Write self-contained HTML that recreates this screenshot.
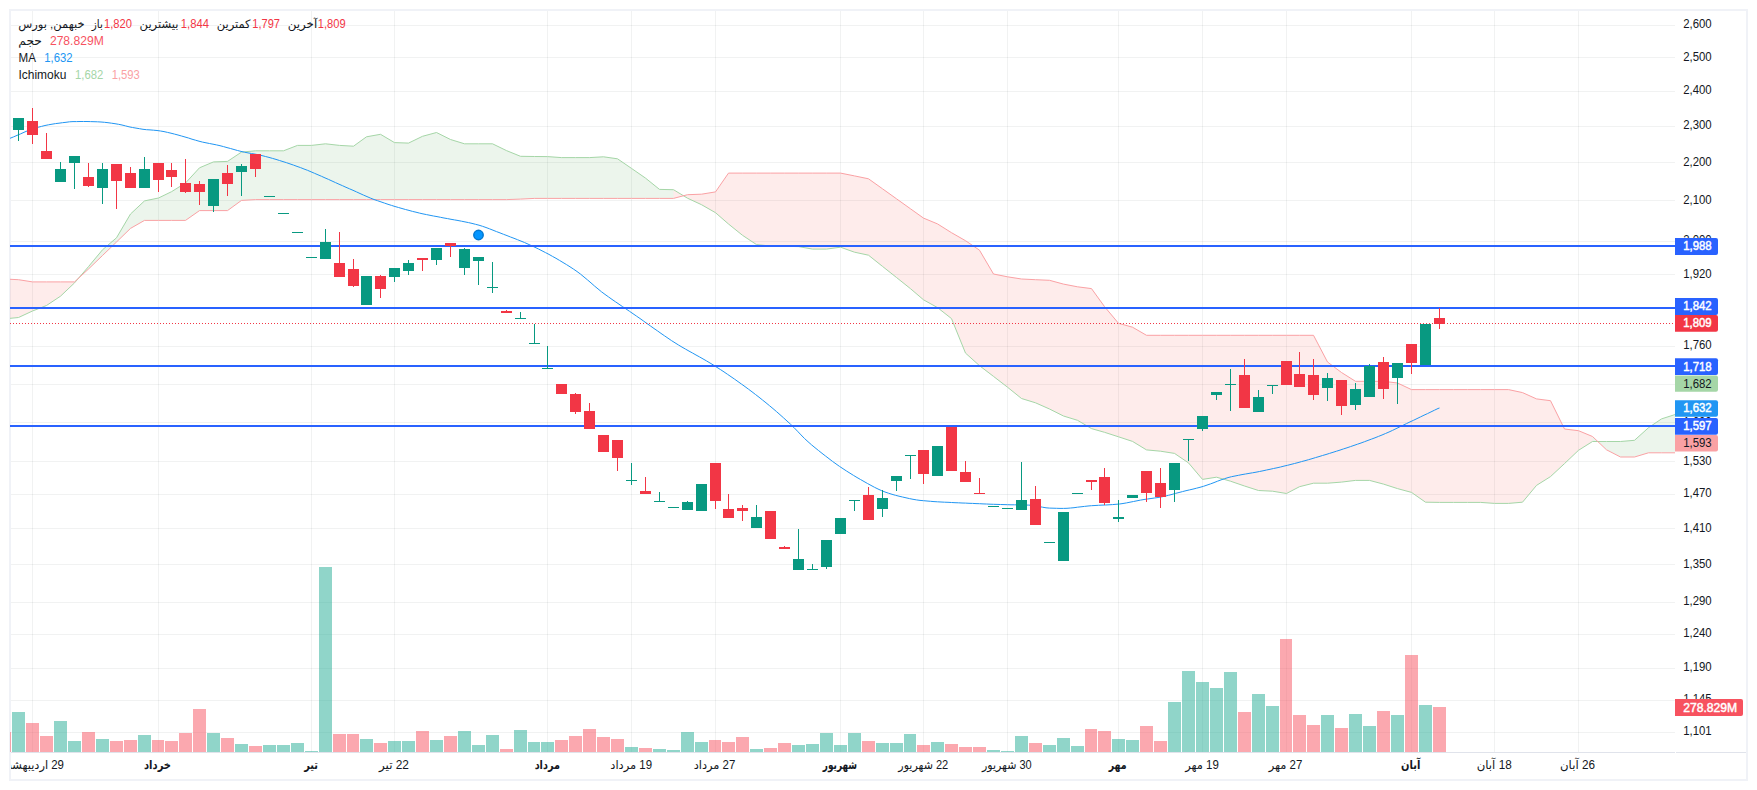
<!DOCTYPE html>
<html lang="fa"><head><meta charset="utf-8"><title>chart</title>
<style>html,body{margin:0;padding:0;background:#fff;overflow:hidden}svg{display:block}</style></head>
<body>
<svg width="1757" height="790" viewBox="0 0 1757 790" font-family="'Liberation Sans','DejaVu Sans',sans-serif" font-size="11.5">
<defs><clipPath id="pane"><rect x="10" y="11" width="1665" height="741"/></clipPath><clipPath id="taxis"><rect x="11" y="753" width="1664" height="26"/></clipPath></defs>
<rect width="1757" height="790" fill="#fff"/>
<rect x="10" y="10" width="1737" height="770" fill="none" stroke="#f0f2f7" stroke-width="2"/>
<g fill="rgba(42,56,57,0.065)" shape-rendering="crispEdges">
<rect x="11" y="25" width="1664" height="1"/>
<rect x="11" y="57" width="1664" height="1"/>
<rect x="11" y="91" width="1664" height="1"/>
<rect x="11" y="126" width="1664" height="1"/>
<rect x="11" y="162" width="1664" height="1"/>
<rect x="11" y="200" width="1664" height="1"/>
<rect x="11" y="241" width="1664" height="1"/>
<rect x="11" y="274" width="1664" height="1"/>
<rect x="11" y="346" width="1664" height="1"/>
<rect x="11" y="384" width="1664" height="1"/>
<rect x="11" y="422" width="1664" height="1"/>
<rect x="11" y="461" width="1664" height="1"/>
<rect x="11" y="494" width="1664" height="1"/>
<rect x="11" y="528" width="1664" height="1"/>
<rect x="11" y="564" width="1664" height="1"/>
<rect x="11" y="602" width="1664" height="1"/>
<rect x="11" y="634" width="1664" height="1"/>
<rect x="11" y="668" width="1664" height="1"/>
<rect x="11" y="700" width="1664" height="1"/>
<rect x="11" y="732" width="1664" height="1"/>
<rect x="32" y="11" width="1" height="741"/>
<rect x="158" y="11" width="1" height="741"/>
<rect x="311" y="11" width="1" height="741"/>
<rect x="394" y="11" width="1" height="741"/>
<rect x="547" y="11" width="1" height="741"/>
<rect x="631" y="11" width="1" height="741"/>
<rect x="715" y="11" width="1" height="741"/>
<rect x="840" y="11" width="1" height="741"/>
<rect x="923" y="11" width="1" height="741"/>
<rect x="1007" y="11" width="1" height="741"/>
<rect x="1118" y="11" width="1" height="741"/>
<rect x="1202" y="11" width="1" height="741"/>
<rect x="1286" y="11" width="1" height="741"/>
<rect x="1411" y="11" width="1" height="741"/>
<rect x="1494" y="11" width="1" height="741"/>
<rect x="1578" y="11" width="1" height="741"/>
</g>
<g clip-path="url(#pane)">
<g shape-rendering="crispEdges">
<rect x="10" y="732" width="1" height="20" fill="rgba(247,82,95,0.5)"/>
<rect x="12" y="712" width="13" height="40" fill="rgba(34,171,148,0.5)"/>
<rect x="26" y="723" width="13" height="29" fill="rgba(247,82,95,0.5)"/>
<rect x="40" y="736" width="13" height="16" fill="rgba(247,82,95,0.5)"/>
<rect x="54" y="721" width="13" height="31" fill="rgba(34,171,148,0.5)"/>
<rect x="68" y="741" width="13" height="11" fill="rgba(34,171,148,0.5)"/>
<rect x="82" y="732" width="13" height="20" fill="rgba(247,82,95,0.5)"/>
<rect x="96" y="739" width="13" height="13" fill="rgba(34,171,148,0.5)"/>
<rect x="110" y="741" width="13" height="11" fill="rgba(247,82,95,0.5)"/>
<rect x="124" y="740" width="13" height="12" fill="rgba(247,82,95,0.5)"/>
<rect x="138" y="735" width="13" height="17" fill="rgba(34,171,148,0.5)"/>
<rect x="152" y="740" width="12" height="12" fill="rgba(247,82,95,0.5)"/>
<rect x="165" y="741" width="13" height="11" fill="rgba(247,82,95,0.5)"/>
<rect x="179" y="733" width="13" height="19" fill="rgba(247,82,95,0.5)"/>
<rect x="193" y="709" width="13" height="43" fill="rgba(247,82,95,0.5)"/>
<rect x="207" y="733" width="13" height="19" fill="rgba(34,171,148,0.5)"/>
<rect x="221" y="738" width="13" height="14" fill="rgba(247,82,95,0.5)"/>
<rect x="235" y="744" width="13" height="8" fill="rgba(34,171,148,0.5)"/>
<rect x="249" y="746" width="13" height="6" fill="rgba(247,82,95,0.5)"/>
<rect x="263" y="745" width="13" height="7" fill="rgba(34,171,148,0.5)"/>
<rect x="277" y="745" width="13" height="7" fill="rgba(34,171,148,0.5)"/>
<rect x="291" y="743" width="13" height="9" fill="rgba(34,171,148,0.5)"/>
<rect x="305" y="751" width="13" height="1" fill="rgba(34,171,148,0.5)"/>
<rect x="319" y="567" width="13" height="185" fill="rgba(34,171,148,0.5)"/>
<rect x="333" y="734" width="13" height="18" fill="rgba(247,82,95,0.5)"/>
<rect x="347" y="734" width="12" height="18" fill="rgba(247,82,95,0.5)"/>
<rect x="360" y="739" width="13" height="13" fill="rgba(34,171,148,0.5)"/>
<rect x="374" y="743" width="13" height="9" fill="rgba(247,82,95,0.5)"/>
<rect x="388" y="741" width="13" height="11" fill="rgba(34,171,148,0.5)"/>
<rect x="402" y="741" width="13" height="11" fill="rgba(34,171,148,0.5)"/>
<rect x="416" y="731" width="13" height="21" fill="rgba(247,82,95,0.5)"/>
<rect x="430" y="740" width="13" height="12" fill="rgba(34,171,148,0.5)"/>
<rect x="444" y="736" width="13" height="16" fill="rgba(247,82,95,0.5)"/>
<rect x="458" y="731" width="13" height="21" fill="rgba(34,171,148,0.5)"/>
<rect x="472" y="745" width="13" height="7" fill="rgba(34,171,148,0.5)"/>
<rect x="486" y="735" width="13" height="17" fill="rgba(34,171,148,0.5)"/>
<rect x="500" y="749" width="13" height="3" fill="rgba(247,82,95,0.5)"/>
<rect x="514" y="730" width="13" height="22" fill="rgba(34,171,148,0.5)"/>
<rect x="528" y="742" width="12" height="10" fill="rgba(34,171,148,0.5)"/>
<rect x="541" y="742" width="13" height="10" fill="rgba(34,171,148,0.5)"/>
<rect x="555" y="740" width="13" height="12" fill="rgba(247,82,95,0.5)"/>
<rect x="569" y="736" width="13" height="16" fill="rgba(247,82,95,0.5)"/>
<rect x="583" y="729" width="13" height="23" fill="rgba(247,82,95,0.5)"/>
<rect x="597" y="737" width="13" height="15" fill="rgba(247,82,95,0.5)"/>
<rect x="611" y="739" width="13" height="13" fill="rgba(247,82,95,0.5)"/>
<rect x="625" y="747" width="13" height="5" fill="rgba(34,171,148,0.5)"/>
<rect x="639" y="748" width="13" height="4" fill="rgba(247,82,95,0.5)"/>
<rect x="653" y="749" width="13" height="3" fill="rgba(34,171,148,0.5)"/>
<rect x="667" y="750" width="13" height="2" fill="rgba(34,171,148,0.5)"/>
<rect x="681" y="732" width="13" height="20" fill="rgba(34,171,148,0.5)"/>
<rect x="695" y="742" width="13" height="10" fill="rgba(34,171,148,0.5)"/>
<rect x="709" y="740" width="12" height="12" fill="rgba(247,82,95,0.5)"/>
<rect x="722" y="742" width="13" height="10" fill="rgba(247,82,95,0.5)"/>
<rect x="736" y="737" width="13" height="15" fill="rgba(247,82,95,0.5)"/>
<rect x="750" y="749" width="13" height="3" fill="rgba(34,171,148,0.5)"/>
<rect x="764" y="748" width="13" height="4" fill="rgba(247,82,95,0.5)"/>
<rect x="778" y="743" width="13" height="9" fill="rgba(247,82,95,0.5)"/>
<rect x="792" y="745" width="13" height="7" fill="rgba(34,171,148,0.5)"/>
<rect x="806" y="744" width="13" height="8" fill="rgba(34,171,148,0.5)"/>
<rect x="820" y="733" width="13" height="19" fill="rgba(34,171,148,0.5)"/>
<rect x="834" y="745" width="13" height="7" fill="rgba(34,171,148,0.5)"/>
<rect x="848" y="733" width="13" height="19" fill="rgba(34,171,148,0.5)"/>
<rect x="862" y="741" width="13" height="11" fill="rgba(247,82,95,0.5)"/>
<rect x="876" y="743" width="13" height="9" fill="rgba(34,171,148,0.5)"/>
<rect x="890" y="743" width="13" height="9" fill="rgba(34,171,148,0.5)"/>
<rect x="904" y="734" width="12" height="18" fill="rgba(34,171,148,0.5)"/>
<rect x="917" y="745" width="13" height="7" fill="rgba(247,82,95,0.5)"/>
<rect x="931" y="742" width="13" height="10" fill="rgba(34,171,148,0.5)"/>
<rect x="945" y="744" width="13" height="8" fill="rgba(247,82,95,0.5)"/>
<rect x="959" y="747" width="13" height="5" fill="rgba(247,82,95,0.5)"/>
<rect x="973" y="747" width="13" height="5" fill="rgba(247,82,95,0.5)"/>
<rect x="987" y="750" width="13" height="2" fill="rgba(34,171,148,0.5)"/>
<rect x="1001" y="751" width="13" height="1" fill="rgba(34,171,148,0.5)"/>
<rect x="1015" y="736" width="13" height="16" fill="rgba(34,171,148,0.5)"/>
<rect x="1029" y="743" width="13" height="9" fill="rgba(247,82,95,0.5)"/>
<rect x="1043" y="745" width="13" height="7" fill="rgba(34,171,148,0.5)"/>
<rect x="1057" y="738" width="13" height="14" fill="rgba(34,171,148,0.5)"/>
<rect x="1071" y="746" width="13" height="6" fill="rgba(34,171,148,0.5)"/>
<rect x="1085" y="729" width="12" height="23" fill="rgba(247,82,95,0.5)"/>
<rect x="1098" y="731" width="13" height="21" fill="rgba(247,82,95,0.5)"/>
<rect x="1112" y="739" width="13" height="13" fill="rgba(34,171,148,0.5)"/>
<rect x="1126" y="740" width="13" height="12" fill="rgba(34,171,148,0.5)"/>
<rect x="1140" y="726" width="13" height="26" fill="rgba(247,82,95,0.5)"/>
<rect x="1154" y="741" width="13" height="11" fill="rgba(247,82,95,0.5)"/>
<rect x="1168" y="702" width="13" height="50" fill="rgba(34,171,148,0.5)"/>
<rect x="1182" y="671" width="13" height="81" fill="rgba(34,171,148,0.5)"/>
<rect x="1196" y="682" width="13" height="70" fill="rgba(34,171,148,0.5)"/>
<rect x="1210" y="688" width="13" height="64" fill="rgba(34,171,148,0.5)"/>
<rect x="1224" y="672" width="13" height="80" fill="rgba(34,171,148,0.5)"/>
<rect x="1238" y="712" width="13" height="40" fill="rgba(247,82,95,0.5)"/>
<rect x="1252" y="694" width="13" height="58" fill="rgba(34,171,148,0.5)"/>
<rect x="1266" y="706" width="13" height="46" fill="rgba(34,171,148,0.5)"/>
<rect x="1280" y="639" width="12" height="113" fill="rgba(247,82,95,0.5)"/>
<rect x="1293" y="715" width="13" height="37" fill="rgba(247,82,95,0.5)"/>
<rect x="1307" y="725" width="13" height="27" fill="rgba(247,82,95,0.5)"/>
<rect x="1321" y="715" width="13" height="37" fill="rgba(34,171,148,0.5)"/>
<rect x="1335" y="728" width="13" height="24" fill="rgba(247,82,95,0.5)"/>
<rect x="1349" y="714" width="13" height="38" fill="rgba(34,171,148,0.5)"/>
<rect x="1363" y="726" width="13" height="26" fill="rgba(34,171,148,0.5)"/>
<rect x="1377" y="711" width="13" height="41" fill="rgba(247,82,95,0.5)"/>
<rect x="1391" y="715" width="13" height="37" fill="rgba(34,171,148,0.5)"/>
<rect x="1405" y="655" width="13" height="97" fill="rgba(247,82,95,0.5)"/>
<rect x="1419" y="705" width="13" height="47" fill="rgba(34,171,148,0.5)"/>
<rect x="1433" y="707" width="13" height="45" fill="rgba(247,82,95,0.5)"/>
</g>
<path d="M74.5,282.9 L88.5,266.6 L102.5,249.8 L116.5,237.8 L130.5,214.0 L144.5,200.9 L158.5,198.0 L171.5,191.7 L185.5,183.0 L199.5,167.8 L213.5,161.9 L227.5,161.4 L241.5,152.1 L255.5,150.8 L269.5,150.8 L283.5,150.8 L297.5,145.4 L311.5,145.4 L325.5,143.8 L339.5,145.4 L353.5,146.2 L366.5,136.8 L380.5,134.3 L394.5,142.6 L408.5,143.1 L422.5,136.3 L436.5,132.5 L450.5,139.5 L464.5,143.8 L478.5,143.8 L492.5,143.8 L506.5,150.6 L520.5,156.3 L534.5,156.5 L547.5,156.6 L561.5,157.6 L575.5,157.6 L589.5,157.6 L603.5,156.8 L617.5,158.8 L631.5,168.4 L645.5,178.1 L659.5,189.4 L673.5,189.7 L673.5,198.4 L659.5,198.4 L645.5,198.4 L631.5,198.4 L617.5,198.4 L603.5,198.4 L589.5,198.4 L575.5,198.4 L561.5,198.4 L547.5,198.4 L534.5,198.4 L520.5,199.1 L506.5,199.6 L492.5,199.6 L478.5,199.6 L464.5,199.6 L450.5,199.6 L436.5,199.6 L422.5,199.6 L408.5,199.6 L394.5,199.6 L380.5,199.6 L366.5,199.6 L353.5,199.6 L339.5,199.6 L325.5,199.6 L311.5,199.6 L297.5,199.6 L283.5,199.6 L269.5,199.6 L255.5,199.6 L241.5,200.4 L227.5,210.6 L213.5,210.6 L199.5,210.6 L185.5,220.4 L171.5,220.4 L158.5,220.4 L144.5,220.4 L130.5,228.4 L116.5,242.0 L102.5,255.5 L88.5,269.0 L74.5,281.9Z M1592.5,441.5 L1606.5,441.5 L1620.5,441.5 L1634.5,440.3 L1648.5,427.7 L1661.5,418.9 L1675.5,414.4 L1689.5,412.0 L1689.5,452.8 L1675.5,452.8 L1661.5,452.8 L1648.5,452.8 L1634.5,457.0 L1620.5,457.0 L1606.5,449.8 L1592.5,436.5Z" fill="rgb(67,160,71)" fill-opacity="0.1"/>
<path d="M4.5,318.9 L18.5,317.5 L32.5,311.0 L46.5,305.5 L60.5,296.2 L74.5,282.9 L74.5,281.9 L60.5,281.9 L46.5,281.9 L32.5,281.9 L18.5,279.7 L4.5,279.0Z M673.5,189.7 L687.5,198.2 L701.5,204.7 L715.5,212.7 L728.5,224.0 L742.5,235.3 L756.5,244.6 L770.5,246.0 L784.5,246.3 L798.5,246.6 L812.5,249.1 L826.5,249.1 L840.5,247.2 L854.5,252.2 L868.5,255.2 L882.5,266.4 L896.5,277.5 L910.5,288.7 L923.5,299.8 L937.5,307.6 L951.5,318.6 L965.5,353.1 L979.5,365.7 L993.5,376.4 L1007.5,387.2 L1021.5,398.5 L1035.5,402.8 L1049.5,409.0 L1063.5,416.0 L1077.5,420.3 L1091.5,428.6 L1104.5,432.3 L1118.5,436.8 L1132.5,441.4 L1146.5,449.9 L1160.5,451.2 L1174.5,453.4 L1188.5,462.9 L1202.5,479.4 L1216.5,477.2 L1230.5,481.2 L1244.5,486.0 L1258.5,490.5 L1272.5,491.2 L1286.5,493.5 L1299.5,486.7 L1313.5,483.2 L1327.5,483.2 L1341.5,482.1 L1355.5,480.4 L1369.5,480.4 L1383.5,484.1 L1397.5,488.6 L1411.5,492.4 L1425.5,502.2 L1439.5,502.4 L1453.5,502.4 L1467.5,502.4 L1480.5,502.4 L1494.5,503.4 L1508.5,503.4 L1522.5,502.2 L1536.5,485.4 L1550.5,476.6 L1564.5,463.6 L1578.5,450.3 L1592.5,441.5 L1592.5,436.5 L1578.5,430.7 L1564.5,429.0 L1550.5,400.7 L1536.5,398.9 L1522.5,392.6 L1508.5,389.6 L1494.5,389.6 L1480.5,389.6 L1467.5,389.6 L1453.5,389.6 L1439.5,389.6 L1425.5,389.6 L1411.5,389.6 L1397.5,383.0 L1383.5,381.3 L1369.5,381.3 L1355.5,381.3 L1341.5,372.5 L1327.5,362.0 L1313.5,335.3 L1299.5,335.3 L1286.5,335.3 L1272.5,335.3 L1258.5,335.3 L1244.5,335.3 L1230.5,335.3 L1216.5,335.3 L1202.5,335.3 L1188.5,335.3 L1174.5,335.3 L1160.5,335.3 L1146.5,335.3 L1132.5,327.2 L1118.5,323.3 L1104.5,306.6 L1091.5,288.6 L1077.5,286.8 L1063.5,284.1 L1049.5,280.3 L1035.5,279.7 L1021.5,279.0 L1007.5,276.8 L993.5,274.0 L979.5,250.2 L965.5,240.7 L951.5,232.7 L937.5,223.9 L923.5,218.1 L910.5,208.8 L896.5,198.8 L882.5,188.8 L868.5,178.8 L854.5,175.9 L840.5,173.1 L826.5,173.1 L812.5,173.1 L798.5,173.1 L784.5,173.1 L770.5,173.1 L756.5,173.1 L742.5,173.1 L728.5,173.1 L715.5,191.9 L701.5,194.2 L687.5,194.7 L673.5,198.4Z" fill="rgb(244,67,54)" fill-opacity="0.1"/>
<polyline fill="none" stroke="#a5d6a7" stroke-width="1" points="4.5,318.9 18.5,317.5 32.5,311.0 46.5,305.5 60.5,296.2 74.5,282.9 88.5,266.6 102.5,249.8 116.5,237.8 130.5,214.0 144.5,200.9 158.5,198.0 171.5,191.7 185.5,183.0 199.5,167.8 213.5,161.9 227.5,161.4 241.5,152.1 255.5,150.8 269.5,150.8 283.5,150.8 297.5,145.4 311.5,145.4 325.5,143.8 339.5,145.4 353.5,146.2 366.5,136.8 380.5,134.3 394.5,142.6 408.5,143.1 422.5,136.3 436.5,132.5 450.5,139.5 464.5,143.8 478.5,143.8 492.5,143.8 506.5,150.6 520.5,156.3 534.5,156.5 547.5,156.6 561.5,157.6 575.5,157.6 589.5,157.6 603.5,156.8 617.5,158.8 631.5,168.4 645.5,178.1 659.5,189.4 673.5,189.7 687.5,198.2 701.5,204.7 715.5,212.7 728.5,224.0 742.5,235.3 756.5,244.6 770.5,246.0 784.5,246.3 798.5,246.6 812.5,249.1 826.5,249.1 840.5,247.2 854.5,252.2 868.5,255.2 882.5,266.4 896.5,277.5 910.5,288.7 923.5,299.8 937.5,307.6 951.5,318.6 965.5,353.1 979.5,365.7 993.5,376.4 1007.5,387.2 1021.5,398.5 1035.5,402.8 1049.5,409.0 1063.5,416.0 1077.5,420.3 1091.5,428.6 1104.5,432.3 1118.5,436.8 1132.5,441.4 1146.5,449.9 1160.5,451.2 1174.5,453.4 1188.5,462.9 1202.5,479.4 1216.5,477.2 1230.5,481.2 1244.5,486.0 1258.5,490.5 1272.5,491.2 1286.5,493.5 1299.5,486.7 1313.5,483.2 1327.5,483.2 1341.5,482.1 1355.5,480.4 1369.5,480.4 1383.5,484.1 1397.5,488.6 1411.5,492.4 1425.5,502.2 1439.5,502.4 1453.5,502.4 1467.5,502.4 1480.5,502.4 1494.5,503.4 1508.5,503.4 1522.5,502.2 1536.5,485.4 1550.5,476.6 1564.5,463.6 1578.5,450.3 1592.5,441.5 1606.5,441.5 1620.5,441.5 1634.5,440.3 1648.5,427.7 1661.5,418.9 1675.5,414.4 1689.5,412.0"/>
<polyline fill="none" stroke="#faa1a4" stroke-width="1" points="4.5,279.0 18.5,279.7 32.5,281.9 46.5,281.9 60.5,281.9 74.5,281.9 88.5,269.0 102.5,255.5 116.5,242.0 130.5,228.4 144.5,220.4 158.5,220.4 171.5,220.4 185.5,220.4 199.5,210.6 213.5,210.6 227.5,210.6 241.5,200.4 255.5,199.6 269.5,199.6 283.5,199.6 297.5,199.6 311.5,199.6 325.5,199.6 339.5,199.6 353.5,199.6 366.5,199.6 380.5,199.6 394.5,199.6 408.5,199.6 422.5,199.6 436.5,199.6 450.5,199.6 464.5,199.6 478.5,199.6 492.5,199.6 506.5,199.6 520.5,199.1 534.5,198.4 547.5,198.4 561.5,198.4 575.5,198.4 589.5,198.4 603.5,198.4 617.5,198.4 631.5,198.4 645.5,198.4 659.5,198.4 673.5,198.4 687.5,194.7 701.5,194.2 715.5,191.9 728.5,173.1 742.5,173.1 756.5,173.1 770.5,173.1 784.5,173.1 798.5,173.1 812.5,173.1 826.5,173.1 840.5,173.1 854.5,175.9 868.5,178.8 882.5,188.8 896.5,198.8 910.5,208.8 923.5,218.1 937.5,223.9 951.5,232.7 965.5,240.7 979.5,250.2 993.5,274.0 1007.5,276.8 1021.5,279.0 1035.5,279.7 1049.5,280.3 1063.5,284.1 1077.5,286.8 1091.5,288.6 1104.5,306.6 1118.5,323.3 1132.5,327.2 1146.5,335.3 1160.5,335.3 1174.5,335.3 1188.5,335.3 1202.5,335.3 1216.5,335.3 1230.5,335.3 1244.5,335.3 1258.5,335.3 1272.5,335.3 1286.5,335.3 1299.5,335.3 1313.5,335.3 1327.5,362.0 1341.5,372.5 1355.5,381.3 1369.5,381.3 1383.5,381.3 1397.5,383.0 1411.5,389.6 1425.5,389.6 1439.5,389.6 1453.5,389.6 1467.5,389.6 1480.5,389.6 1494.5,389.6 1508.5,389.6 1522.5,392.6 1536.5,398.9 1550.5,400.7 1564.5,429.0 1578.5,430.7 1592.5,436.5 1606.5,449.8 1620.5,457.0 1634.5,457.0 1648.5,452.8 1661.5,452.8 1675.5,452.8 1689.5,452.8"/>
<polyline fill="none" stroke="#2196f3" stroke-width="1" stroke-linejoin="round" points="10.0,138.3 13.5,136.9 17.0,135.4 20.5,133.9 24.0,132.3 27.5,130.8 31.0,129.5 34.5,128.3 38.0,127.3 41.5,126.4 45.0,125.5 48.5,124.8 52.0,124.2 55.5,123.6 59.0,123.2 62.5,122.7 66.0,122.3 69.5,121.8 73.0,121.6 76.5,121.6 80.0,121.5 83.5,121.5 87.0,121.5 90.5,121.6 94.0,121.7 97.5,121.8 101.0,122.0 104.5,122.3 108.0,122.7 111.5,123.2 115.0,123.7 118.5,124.3 122.0,125.0 125.5,125.9 129.0,126.8 132.5,127.5 136.0,128.1 139.5,128.7 143.0,129.3 146.5,129.7 150.0,129.9 153.5,130.2 157.0,130.5 160.5,131.0 164.0,131.6 167.5,132.4 171.0,133.2 174.5,134.1 178.0,135.0 181.5,136.0 185.0,137.0 188.5,138.0 192.0,139.2 195.5,140.2 199.0,141.2 202.5,142.1 206.0,142.8 209.5,143.5 213.0,144.2 216.5,144.9 220.0,145.7 223.5,146.6 227.0,147.6 230.5,148.5 234.0,149.5 237.5,150.5 241.0,151.4 244.5,152.2 248.0,152.9 251.5,153.5 255.0,154.1 258.5,154.8 262.0,155.6 265.5,156.5 269.0,157.4 272.5,158.4 276.0,159.4 279.5,160.5 283.0,161.6 286.5,162.7 290.0,163.9 293.5,165.1 297.0,166.4 300.5,167.6 304.0,169.0 307.5,170.3 311.0,171.8 314.5,173.3 318.0,174.8 321.5,176.3 325.0,177.9 328.5,179.4 332.0,181.0 335.5,182.6 339.0,184.2 342.5,185.7 346.0,187.3 349.5,188.8 353.0,190.3 356.5,191.9 360.0,193.5 363.5,195.1 367.0,196.6 370.5,198.1 374.0,199.5 377.5,200.7 381.0,201.9 384.5,203.1 388.0,204.3 391.5,205.4 395.0,206.5 398.5,207.5 402.0,208.5 405.5,209.5 409.0,210.4 412.5,211.4 416.0,212.2 419.5,213.1 423.0,213.9 426.5,214.6 430.0,215.3 433.5,216.0 437.0,216.6 440.5,217.3 444.0,218.0 447.5,218.6 451.0,219.3 454.5,219.9 458.0,220.5 461.5,221.2 465.0,221.9 468.5,222.6 472.0,223.4 475.5,224.3 479.0,225.2 482.5,226.3 486.0,227.5 489.5,228.8 493.0,230.2 496.5,231.6 500.0,232.9 503.5,234.3 507.0,235.6 510.5,237.0 514.0,238.3 517.5,239.7 521.0,241.1 524.5,242.5 528.0,244.1 531.5,245.7 535.0,247.3 538.5,249.0 542.0,250.8 545.5,252.6 549.0,254.4 552.5,256.4 556.0,258.3 559.5,260.4 563.0,262.5 566.5,264.6 570.0,266.8 573.5,269.1 577.0,271.5 580.5,274.1 584.0,277.0 587.5,279.9 591.0,282.9 594.5,286.0 598.0,288.9 601.5,291.8 605.0,294.4 608.5,296.9 612.0,299.4 615.5,301.8 619.0,304.2 622.5,306.6 626.0,308.9 629.5,311.3 633.0,313.7 636.5,316.1 640.0,318.5 643.5,321.0 647.0,323.5 650.5,326.0 654.0,328.5 657.5,330.9 661.0,333.4 664.5,335.8 668.0,338.2 671.5,340.6 675.0,342.8 678.5,345.0 682.0,347.1 685.5,349.1 689.0,351.1 692.5,353.0 696.0,355.0 699.5,356.9 703.0,358.9 706.5,360.9 710.0,363.0 713.5,365.1 717.0,367.4 720.5,369.6 724.0,371.9 727.5,374.3 731.0,376.7 734.5,379.1 738.0,381.6 741.5,384.1 745.0,386.6 748.5,389.2 752.0,391.8 755.5,394.5 759.0,397.2 762.5,400.0 766.0,402.8 769.5,405.7 773.0,408.6 776.5,411.6 780.0,414.7 783.5,417.8 787.0,421.0 790.5,424.2 794.0,427.6 797.5,431.2 801.0,434.9 804.5,438.5 808.0,441.7 811.5,444.8 815.0,447.7 818.5,450.5 822.0,453.3 825.5,456.0 829.0,458.7 832.5,461.4 836.0,463.9 839.5,466.4 843.0,468.7 846.5,471.0 850.0,473.2 853.5,475.4 857.0,477.5 860.5,479.5 864.0,481.5 867.5,483.5 871.0,485.4 874.5,487.3 878.0,489.0 881.5,490.6 885.0,492.0 888.5,493.2 892.0,494.3 895.5,495.3 899.0,496.2 902.5,497.0 906.0,497.8 909.5,498.6 913.0,499.3 916.5,499.9 920.0,500.4 923.5,500.7 927.0,501.0 930.5,501.3 934.0,501.6 937.5,501.8 941.0,502.0 944.5,502.2 948.0,502.3 951.5,502.5 955.0,502.7 958.5,502.8 962.0,503.0 965.5,503.1 969.0,503.3 972.5,503.4 976.0,503.6 979.5,503.7 983.0,503.9 986.5,504.0 990.0,504.2 993.5,504.3 997.0,504.4 1000.5,504.5 1004.0,504.6 1007.5,504.7 1011.0,504.8 1014.5,504.8 1018.0,504.9 1021.5,504.9 1025.0,505.0 1028.5,505.1 1032.0,505.3 1035.5,505.8 1039.0,506.5 1042.5,507.2 1046.0,507.8 1049.5,508.1 1053.0,508.2 1056.5,508.3 1060.0,508.4 1063.5,508.4 1067.0,508.3 1070.5,508.0 1074.0,507.7 1077.5,507.2 1081.0,506.8 1084.5,506.4 1088.0,506.0 1091.5,505.7 1095.0,505.5 1098.5,505.3 1102.0,505.1 1105.5,505.0 1109.0,504.8 1112.5,504.6 1116.0,504.3 1119.5,504.0 1123.0,503.5 1126.5,502.9 1130.0,502.2 1133.5,501.5 1137.0,500.8 1140.5,500.1 1144.0,499.5 1147.5,499.0 1151.0,498.5 1154.5,498.0 1158.0,497.5 1161.5,496.9 1165.0,496.2 1168.5,495.3 1172.0,494.4 1175.5,493.4 1179.0,492.5 1182.5,491.6 1186.0,490.7 1189.5,489.9 1193.0,489.1 1196.5,488.2 1200.0,487.3 1203.5,486.3 1207.0,485.1 1210.5,483.9 1214.0,482.6 1217.5,481.2 1221.0,479.9 1224.5,478.7 1228.0,477.6 1231.5,476.7 1235.0,476.0 1238.5,475.3 1242.0,474.6 1245.5,474.0 1249.0,473.4 1252.5,472.8 1256.0,472.2 1259.5,471.5 1263.0,470.8 1266.5,470.0 1270.0,469.3 1273.5,468.5 1277.0,467.8 1280.5,467.0 1284.0,466.1 1287.5,465.3 1291.0,464.4 1294.5,463.5 1298.0,462.6 1301.5,461.6 1305.0,460.7 1308.5,459.7 1312.0,458.7 1315.5,457.6 1319.0,456.6 1322.5,455.5 1326.0,454.5 1329.5,453.4 1333.0,452.3 1336.5,451.2 1340.0,450.1 1343.5,448.9 1347.0,447.8 1350.5,446.6 1354.0,445.4 1357.5,444.2 1361.0,443.0 1364.5,441.7 1368.0,440.4 1371.5,439.1 1375.0,437.8 1378.5,436.4 1382.0,435.0 1385.5,433.5 1389.0,432.0 1392.5,430.4 1396.0,428.7 1399.5,427.0 1403.0,425.3 1406.5,423.6 1410.0,421.9 1413.5,420.3 1417.0,418.6 1420.5,416.9 1424.0,415.2 1427.5,413.6 1431.0,411.9 1434.5,410.2 1438.0,408.5 1439.5,408.0"/>
<g fill="#2962ff" shape-rendering="crispEdges">
<rect x="10" y="245" width="1665" height="2"/>
<rect x="10" y="307" width="1665" height="2"/>
<rect x="10" y="365" width="1665" height="2"/>
<rect x="10" y="425" width="1665" height="2"/>
</g>
<g shape-rendering="crispEdges">
<rect x="18" y="118" width="1" height="23" fill="#089981"/>
<rect x="13" y="118" width="11" height="12" fill="#089981"/>
<rect x="32" y="108" width="1" height="36" fill="#f23645"/>
<rect x="27" y="121" width="11" height="14" fill="#f23645"/>
<rect x="46" y="133" width="1" height="26" fill="#f23645"/>
<rect x="41" y="151" width="11" height="8" fill="#f23645"/>
<rect x="60" y="162" width="1" height="20" fill="#089981"/>
<rect x="55" y="169" width="11" height="13" fill="#089981"/>
<rect x="74" y="156" width="1" height="33" fill="#089981"/>
<rect x="69" y="156" width="11" height="7" fill="#089981"/>
<rect x="88" y="163" width="1" height="24" fill="#f23645"/>
<rect x="83" y="177" width="11" height="9" fill="#f23645"/>
<rect x="102" y="163" width="1" height="41" fill="#089981"/>
<rect x="97" y="169" width="11" height="19" fill="#089981"/>
<rect x="116" y="164" width="1" height="45" fill="#f23645"/>
<rect x="111" y="164" width="11" height="17" fill="#f23645"/>
<rect x="130" y="167" width="1" height="21" fill="#f23645"/>
<rect x="125" y="173" width="11" height="15" fill="#f23645"/>
<rect x="144" y="157" width="1" height="31" fill="#089981"/>
<rect x="139" y="169" width="11" height="19" fill="#089981"/>
<rect x="158" y="163" width="1" height="29" fill="#f23645"/>
<rect x="153" y="163" width="11" height="17" fill="#f23645"/>
<rect x="171" y="163" width="1" height="24" fill="#f23645"/>
<rect x="166" y="170" width="11" height="7" fill="#f23645"/>
<rect x="185" y="159" width="1" height="34" fill="#f23645"/>
<rect x="180" y="183" width="11" height="9" fill="#f23645"/>
<rect x="199" y="181" width="1" height="24" fill="#f23645"/>
<rect x="194" y="184" width="11" height="8" fill="#f23645"/>
<rect x="213" y="179" width="1" height="33" fill="#089981"/>
<rect x="208" y="179" width="11" height="27" fill="#089981"/>
<rect x="227" y="165" width="1" height="31" fill="#f23645"/>
<rect x="222" y="173" width="11" height="11" fill="#f23645"/>
<rect x="241" y="164" width="1" height="32" fill="#089981"/>
<rect x="236" y="166" width="11" height="6" fill="#089981"/>
<rect x="255" y="154" width="1" height="23" fill="#f23645"/>
<rect x="250" y="154" width="11" height="15" fill="#f23645"/>
<rect x="264" y="196" width="11" height="1" fill="#089981"/>
<rect x="278" y="213" width="11" height="1" fill="#089981"/>
<rect x="292" y="232" width="11" height="1" fill="#089981"/>
<rect x="306" y="257" width="11" height="1" fill="#089981"/>
<rect x="325" y="229" width="1" height="30" fill="#089981"/>
<rect x="320" y="242" width="11" height="17" fill="#089981"/>
<rect x="339" y="232" width="1" height="45" fill="#f23645"/>
<rect x="334" y="263" width="11" height="14" fill="#f23645"/>
<rect x="353" y="259" width="1" height="28" fill="#f23645"/>
<rect x="348" y="269" width="11" height="17" fill="#f23645"/>
<rect x="361" y="276" width="11" height="29" fill="#089981"/>
<rect x="380" y="275" width="1" height="23" fill="#f23645"/>
<rect x="375" y="276" width="11" height="13" fill="#f23645"/>
<rect x="394" y="268" width="1" height="14" fill="#089981"/>
<rect x="389" y="268" width="11" height="9" fill="#089981"/>
<rect x="408" y="260" width="1" height="15" fill="#089981"/>
<rect x="403" y="263" width="11" height="8" fill="#089981"/>
<rect x="422" y="258" width="1" height="13" fill="#f23645"/>
<rect x="417" y="258" width="11" height="2" fill="#f23645"/>
<rect x="436" y="248" width="1" height="17" fill="#089981"/>
<rect x="431" y="248" width="11" height="12" fill="#089981"/>
<rect x="450" y="243" width="1" height="14" fill="#f23645"/>
<rect x="445" y="243" width="11" height="3" fill="#f23645"/>
<rect x="464" y="248" width="1" height="27" fill="#089981"/>
<rect x="459" y="249" width="11" height="19" fill="#089981"/>
<rect x="478" y="257" width="1" height="28" fill="#089981"/>
<rect x="473" y="257" width="11" height="4" fill="#089981"/>
<rect x="492" y="262" width="1" height="31" fill="#089981"/>
<rect x="487" y="287" width="11" height="1" fill="#089981"/>
<rect x="506" y="310" width="1" height="3" fill="#f23645"/>
<rect x="501" y="311" width="11" height="2" fill="#f23645"/>
<rect x="520" y="312" width="1" height="7" fill="#089981"/>
<rect x="515" y="318" width="11" height="1" fill="#089981"/>
<rect x="534" y="324" width="1" height="20" fill="#089981"/>
<rect x="529" y="343" width="11" height="1" fill="#089981"/>
<rect x="547" y="346" width="1" height="23" fill="#089981"/>
<rect x="542" y="368" width="11" height="1" fill="#089981"/>
<rect x="556" y="384" width="11" height="10" fill="#f23645"/>
<rect x="575" y="393" width="1" height="21" fill="#f23645"/>
<rect x="570" y="394" width="11" height="18" fill="#f23645"/>
<rect x="589" y="403" width="1" height="26" fill="#f23645"/>
<rect x="584" y="411" width="11" height="18" fill="#f23645"/>
<rect x="598" y="435" width="11" height="17" fill="#f23645"/>
<rect x="617" y="440" width="1" height="31" fill="#f23645"/>
<rect x="612" y="440" width="11" height="18" fill="#f23645"/>
<rect x="631" y="463" width="1" height="22" fill="#089981"/>
<rect x="626" y="480" width="11" height="1" fill="#089981"/>
<rect x="645" y="477" width="1" height="17" fill="#f23645"/>
<rect x="640" y="491" width="11" height="3" fill="#f23645"/>
<rect x="659" y="492" width="1" height="10" fill="#089981"/>
<rect x="654" y="501" width="11" height="1" fill="#089981"/>
<rect x="668" y="507" width="11" height="1" fill="#089981"/>
<rect x="687" y="501" width="1" height="9" fill="#089981"/>
<rect x="682" y="502" width="11" height="8" fill="#089981"/>
<rect x="696" y="484" width="11" height="27" fill="#089981"/>
<rect x="715" y="463" width="1" height="46" fill="#f23645"/>
<rect x="710" y="463" width="11" height="38" fill="#f23645"/>
<rect x="728" y="494" width="1" height="24" fill="#f23645"/>
<rect x="723" y="509" width="11" height="9" fill="#f23645"/>
<rect x="742" y="505" width="1" height="16" fill="#f23645"/>
<rect x="737" y="508" width="11" height="3" fill="#f23645"/>
<rect x="756" y="505" width="1" height="23" fill="#089981"/>
<rect x="751" y="517" width="11" height="11" fill="#089981"/>
<rect x="765" y="511" width="11" height="28" fill="#f23645"/>
<rect x="784" y="546" width="1" height="3" fill="#f23645"/>
<rect x="779" y="547" width="11" height="2" fill="#f23645"/>
<rect x="798" y="529" width="1" height="41" fill="#089981"/>
<rect x="793" y="559" width="11" height="11" fill="#089981"/>
<rect x="812" y="564" width="1" height="6" fill="#089981"/>
<rect x="807" y="569" width="11" height="1" fill="#089981"/>
<rect x="826" y="540" width="1" height="29" fill="#089981"/>
<rect x="821" y="540" width="11" height="27" fill="#089981"/>
<rect x="835" y="518" width="11" height="16" fill="#089981"/>
<rect x="854" y="500" width="1" height="11" fill="#089981"/>
<rect x="849" y="500" width="11" height="1" fill="#089981"/>
<rect x="868" y="487" width="1" height="33" fill="#f23645"/>
<rect x="863" y="495" width="11" height="25" fill="#f23645"/>
<rect x="882" y="490" width="1" height="27" fill="#089981"/>
<rect x="877" y="498" width="11" height="11" fill="#089981"/>
<rect x="896" y="476" width="1" height="15" fill="#089981"/>
<rect x="891" y="476" width="11" height="5" fill="#089981"/>
<rect x="910" y="455" width="1" height="24" fill="#089981"/>
<rect x="905" y="455" width="11" height="1" fill="#089981"/>
<rect x="923" y="450" width="1" height="34" fill="#f23645"/>
<rect x="918" y="450" width="11" height="24" fill="#f23645"/>
<rect x="932" y="446" width="11" height="30" fill="#089981"/>
<rect x="946" y="427" width="11" height="44" fill="#f23645"/>
<rect x="965" y="461" width="1" height="21" fill="#f23645"/>
<rect x="960" y="472" width="11" height="10" fill="#f23645"/>
<rect x="979" y="478" width="1" height="16" fill="#f23645"/>
<rect x="974" y="493" width="11" height="1" fill="#f23645"/>
<rect x="988" y="506" width="11" height="1" fill="#089981"/>
<rect x="1002" y="508" width="11" height="1" fill="#089981"/>
<rect x="1021" y="462" width="1" height="48" fill="#089981"/>
<rect x="1016" y="500" width="11" height="10" fill="#089981"/>
<rect x="1035" y="486" width="1" height="39" fill="#f23645"/>
<rect x="1030" y="499" width="11" height="26" fill="#f23645"/>
<rect x="1044" y="542" width="11" height="1" fill="#089981"/>
<rect x="1058" y="512" width="11" height="49" fill="#089981"/>
<rect x="1072" y="493" width="11" height="1" fill="#089981"/>
<rect x="1091" y="480" width="1" height="10" fill="#f23645"/>
<rect x="1086" y="480" width="11" height="2" fill="#f23645"/>
<rect x="1104" y="468" width="1" height="37" fill="#f23645"/>
<rect x="1099" y="477" width="11" height="26" fill="#f23645"/>
<rect x="1118" y="500" width="1" height="22" fill="#089981"/>
<rect x="1113" y="517" width="11" height="2" fill="#089981"/>
<rect x="1127" y="495" width="11" height="3" fill="#089981"/>
<rect x="1146" y="471" width="1" height="31" fill="#f23645"/>
<rect x="1141" y="471" width="11" height="22" fill="#f23645"/>
<rect x="1160" y="468" width="1" height="40" fill="#f23645"/>
<rect x="1155" y="483" width="11" height="14" fill="#f23645"/>
<rect x="1174" y="463" width="1" height="39" fill="#089981"/>
<rect x="1169" y="463" width="11" height="27" fill="#089981"/>
<rect x="1188" y="439" width="1" height="22" fill="#089981"/>
<rect x="1183" y="439" width="11" height="1" fill="#089981"/>
<rect x="1202" y="416" width="1" height="15" fill="#089981"/>
<rect x="1197" y="416" width="11" height="13" fill="#089981"/>
<rect x="1216" y="392" width="1" height="8" fill="#089981"/>
<rect x="1211" y="392" width="11" height="3" fill="#089981"/>
<rect x="1230" y="369" width="1" height="42" fill="#089981"/>
<rect x="1225" y="384" width="11" height="1" fill="#089981"/>
<rect x="1244" y="359" width="1" height="49" fill="#f23645"/>
<rect x="1239" y="375" width="11" height="33" fill="#f23645"/>
<rect x="1258" y="390" width="1" height="22" fill="#089981"/>
<rect x="1253" y="397" width="11" height="15" fill="#089981"/>
<rect x="1272" y="385" width="1" height="9" fill="#089981"/>
<rect x="1267" y="385" width="11" height="1" fill="#089981"/>
<rect x="1281" y="361" width="11" height="24" fill="#f23645"/>
<rect x="1299" y="352" width="1" height="35" fill="#f23645"/>
<rect x="1294" y="374" width="11" height="13" fill="#f23645"/>
<rect x="1313" y="359" width="1" height="41" fill="#f23645"/>
<rect x="1308" y="375" width="11" height="20" fill="#f23645"/>
<rect x="1327" y="373" width="1" height="28" fill="#089981"/>
<rect x="1322" y="378" width="11" height="10" fill="#089981"/>
<rect x="1341" y="380" width="1" height="35" fill="#f23645"/>
<rect x="1336" y="380" width="11" height="26" fill="#f23645"/>
<rect x="1355" y="383" width="1" height="27" fill="#089981"/>
<rect x="1350" y="389" width="11" height="16" fill="#089981"/>
<rect x="1369" y="364" width="1" height="33" fill="#089981"/>
<rect x="1364" y="366" width="11" height="31" fill="#089981"/>
<rect x="1383" y="357" width="1" height="42" fill="#f23645"/>
<rect x="1378" y="362" width="11" height="27" fill="#f23645"/>
<rect x="1397" y="363" width="1" height="41" fill="#089981"/>
<rect x="1392" y="363" width="11" height="15" fill="#089981"/>
<rect x="1411" y="344" width="1" height="30" fill="#f23645"/>
<rect x="1406" y="344" width="11" height="19" fill="#f23645"/>
<rect x="1420" y="324" width="11" height="41" fill="#089981"/>
<rect x="1439" y="308" width="1" height="21" fill="#f23645"/>
<rect x="1434" y="318" width="11" height="6" fill="#f23645"/>
</g>
<line x1="10" y1="323.5" x2="1675" y2="323.5" stroke="#f23645" stroke-width="1" stroke-dasharray="1 2" shape-rendering="crispEdges"/>
<circle cx="478.5" cy="235" r="4.7" fill="#0496ff" stroke="#0477cf" stroke-width="1.5"/>
</g>
<rect x="11" y="752" width="1664" height="1" fill="#e0e3eb"/><rect x="1676" y="752" width="70" height="1" fill="#e0e3eb"/>
<text x="1683.2" y="27.9" font-size="12" fill="#131722" textLength="28.5" lengthAdjust="spacingAndGlyphs">2,600</text>
<text x="1683.2" y="60.9" font-size="12" fill="#131722" textLength="28.5" lengthAdjust="spacingAndGlyphs">2,500</text>
<text x="1683.2" y="93.8" font-size="12" fill="#131722" textLength="28.5" lengthAdjust="spacingAndGlyphs">2,400</text>
<text x="1683.2" y="129.2" font-size="12" fill="#131722" textLength="28.5" lengthAdjust="spacingAndGlyphs">2,300</text>
<text x="1683.2" y="166.0" font-size="12" fill="#131722" textLength="28.5" lengthAdjust="spacingAndGlyphs">2,200</text>
<text x="1683.2" y="204.0" font-size="12" fill="#131722" textLength="28.5" lengthAdjust="spacingAndGlyphs">2,100</text>
<text x="1683.2" y="243.8" font-size="12" fill="#131722" textLength="28.5" lengthAdjust="spacingAndGlyphs">2,000</text>
<text x="1683.2" y="278.4" font-size="12" fill="#131722" textLength="28.5" lengthAdjust="spacingAndGlyphs">1,920</text>
<text x="1683.2" y="349.0" font-size="12" fill="#131722" textLength="28.5" lengthAdjust="spacingAndGlyphs">1,760</text>
<text x="1683.2" y="425.5" font-size="12" fill="#131722" textLength="28.5" lengthAdjust="spacingAndGlyphs">1,600</text>
<text x="1683.2" y="465.3" font-size="12" fill="#131722" textLength="28.5" lengthAdjust="spacingAndGlyphs">1,530</text>
<text x="1683.2" y="497.0" font-size="12" fill="#131722" textLength="28.5" lengthAdjust="spacingAndGlyphs">1,470</text>
<text x="1683.2" y="531.9" font-size="12" fill="#131722" textLength="28.5" lengthAdjust="spacingAndGlyphs">1,410</text>
<text x="1683.2" y="568.0" font-size="12" fill="#131722" textLength="28.5" lengthAdjust="spacingAndGlyphs">1,350</text>
<text x="1683.2" y="605.0" font-size="12" fill="#131722" textLength="28.5" lengthAdjust="spacingAndGlyphs">1,290</text>
<text x="1683.2" y="637.1" font-size="12" fill="#131722" textLength="28.5" lengthAdjust="spacingAndGlyphs">1,240</text>
<text x="1683.2" y="671.0" font-size="12" fill="#131722" textLength="28.5" lengthAdjust="spacingAndGlyphs">1,190</text>
<text x="1683.2" y="702.6" font-size="12" fill="#131722" textLength="28.5" lengthAdjust="spacingAndGlyphs">1,145</text>
<text x="1683.2" y="735.3" font-size="12" fill="#131722" textLength="28.5" lengthAdjust="spacingAndGlyphs">1,101</text>
<path d="M1675,238 h41 a2,2 0 0 1 2,2 v13 a2,2 0 0 1 -2,2 h-41 z" fill="#2962ff"/>
<text x="1683.2" y="250.2" font-size="12" fill="#fff" stroke="#fff" stroke-width="0.45" textLength="28.5" lengthAdjust="spacingAndGlyphs">1,988</text>
<path d="M1675,298 h41 a2,2 0 0 1 2,2 v13 a2,2 0 0 1 -2,2 h-41 z" fill="#2962ff"/>
<text x="1683.2" y="310.2" font-size="12" fill="#fff" stroke="#fff" stroke-width="0.45" textLength="28.5" lengthAdjust="spacingAndGlyphs">1,842</text>
<path d="M1675,315 h41 a2,2 0 0 1 2,2 v12.7 a2,2 0 0 1 -2,2 h-41 z" fill="#f23645"/>
<text x="1683.2" y="327.2" font-size="12" fill="#fff" stroke="#fff" stroke-width="0.45" textLength="28.5" lengthAdjust="spacingAndGlyphs">1,809</text>
<path d="M1675,358.3 h41 a2,2 0 0 1 2,2 v12.7 a2,2 0 0 1 -2,2 h-41 z" fill="#2962ff"/>
<text x="1683.2" y="370.5" font-size="12" fill="#fff" stroke="#fff" stroke-width="0.45" textLength="28.5" lengthAdjust="spacingAndGlyphs">1,718</text>
<path d="M1675,375.5 h41 a2,2 0 0 1 2,2 v12.2 a2,2 0 0 1 -2,2 h-41 z" fill="#a5d6a7"/>
<text x="1683.2" y="387.7" font-size="12" fill="#131722" textLength="28.5" lengthAdjust="spacingAndGlyphs">1,682</text>
<path d="M1675,400.2 h41 a2,2 0 0 1 2,2 v12.600000000000001 a2,2 0 0 1 -2,2 h-41 z" fill="#2196f3"/>
<text x="1683.2" y="412.4" font-size="12" fill="#fff" stroke="#fff" stroke-width="0.45" textLength="28.5" lengthAdjust="spacingAndGlyphs">1,632</text>
<path d="M1675,418.1 h41 a2,2 0 0 1 2,2 v12.7 a2,2 0 0 1 -2,2 h-41 z" fill="#2962ff"/>
<text x="1683.2" y="430.3" font-size="12" fill="#fff" stroke="#fff" stroke-width="0.45" textLength="28.5" lengthAdjust="spacingAndGlyphs">1,597</text>
<path d="M1675,435 h41 a2,2 0 0 1 2,2 v12.399999999999999 a2,2 0 0 1 -2,2 h-41 z" fill="#faa1a4"/>
<text x="1683.2" y="447.2" font-size="12" fill="#131722" textLength="28.5" lengthAdjust="spacingAndGlyphs">1,593</text>
<path d="M1675,699 h66 a2,2 0 0 1 2,2 v13 a2,2 0 0 1 -2,2 h-66 z" fill="#f7525f"/>
<text x="1683.2" y="712.2" font-size="12" fill="#fff" stroke="#fff" stroke-width="0.45" textLength="54" lengthAdjust="spacingAndGlyphs">278.829M</text>
<g clip-path="url(#taxis)" font-size="12" fill="#131722" text-anchor="middle" direction="rtl">
<text x="32.5" y="769" textLength="63" lengthAdjust="spacingAndGlyphs">29 اردیبهشت</text>
<text x="157.5" y="769" font-weight="bold" textLength="27" lengthAdjust="spacingAndGlyphs">خرداد</text>
<text x="311" y="769" font-weight="bold" textLength="13.7" lengthAdjust="spacingAndGlyphs">تیر</text>
<text x="394" y="769" textLength="30" lengthAdjust="spacingAndGlyphs">22 تیر</text>
<text x="547.3" y="769" font-weight="bold" textLength="25.3" lengthAdjust="spacingAndGlyphs">مرداد</text>
<text x="631.2" y="769" textLength="41.7" lengthAdjust="spacingAndGlyphs">19 مرداد</text>
<text x="714.5" y="769" textLength="41.7" lengthAdjust="spacingAndGlyphs">27 مرداد</text>
<text x="840" y="769" font-weight="bold" textLength="34.3" lengthAdjust="spacingAndGlyphs">شهریور</text>
<text x="923.3" y="769" textLength="50" lengthAdjust="spacingAndGlyphs">22 شهریور</text>
<text x="1006.8" y="769" textLength="49.7" lengthAdjust="spacingAndGlyphs">30 شهریور</text>
<text x="1117.7" y="769" font-weight="bold" textLength="18" lengthAdjust="spacingAndGlyphs">مهر</text>
<text x="1202" y="769" textLength="33.7" lengthAdjust="spacingAndGlyphs">19 مهر</text>
<text x="1285.5" y="769" textLength="33.7" lengthAdjust="spacingAndGlyphs">27 مهر</text>
<text x="1410.7" y="769" font-weight="bold" textLength="19.3" lengthAdjust="spacingAndGlyphs">آبان</text>
<text x="1494.2" y="769" textLength="35" lengthAdjust="spacingAndGlyphs">18 آبان</text>
<text x="1577.5" y="769" textLength="35" lengthAdjust="spacingAndGlyphs">26 آبان</text>
</g>
<text x="18.2" y="27.7" font-size="11.5" fill="#131722" textLength="66.4" lengthAdjust="spacingAndGlyphs">خبهمن, بورس</text>
<text x="91.7" y="27.7" font-size="11.5" fill="#131722" textLength="11.1" lengthAdjust="spacingAndGlyphs">باز</text>
<text x="104" y="27.7" font-size="12" fill="#f23645" textLength="28" lengthAdjust="spacingAndGlyphs">1,820</text>
<text x="139.6" y="27.7" font-size="11.5" fill="#131722" textLength="38.9" lengthAdjust="spacingAndGlyphs">بیشترین</text>
<text x="180.8" y="27.7" font-size="12" fill="#f23645" textLength="28.2" lengthAdjust="spacingAndGlyphs">1,844</text>
<text x="216.7" y="27.7" font-size="11.5" fill="#131722" textLength="33.9" lengthAdjust="spacingAndGlyphs">کمترین</text>
<text x="252.3" y="27.7" font-size="12" fill="#f23645" textLength="27.6" lengthAdjust="spacingAndGlyphs">1,797</text>
<text x="287.8" y="27.7" font-size="11.5" fill="#131722" textLength="29.4" lengthAdjust="spacingAndGlyphs">آخرین</text>
<text x="317.8" y="27.7" font-size="12" fill="#f23645" textLength="27.8" lengthAdjust="spacingAndGlyphs">1,809</text>
<text x="18.2" y="44.7" font-size="11.5" fill="#131722" textLength="23.8" lengthAdjust="spacingAndGlyphs">حجم</text>
<text x="49.9" y="44.7" font-size="12" fill="#f7525f" textLength="53.9" lengthAdjust="spacingAndGlyphs">278.829M</text>
<text x="18.5" y="61.7" font-size="12" fill="#131722" textLength="17.4" lengthAdjust="spacingAndGlyphs">MA</text>
<text x="44.3" y="61.7" font-size="12" fill="#2196f3" textLength="28.3" lengthAdjust="spacingAndGlyphs">1,632</text>
<text x="18.5" y="78.7" font-size="12" fill="#131722" textLength="47.9" lengthAdjust="spacingAndGlyphs">Ichimoku</text>
<text x="75.1" y="78.7" font-size="12" fill="#a5d6a7" textLength="28.2" lengthAdjust="spacingAndGlyphs">1,682</text>
<text x="111.7" y="78.7" font-size="12" fill="#faa1a4" textLength="28.2" lengthAdjust="spacingAndGlyphs">1,593</text>
</svg>
</body></html>
